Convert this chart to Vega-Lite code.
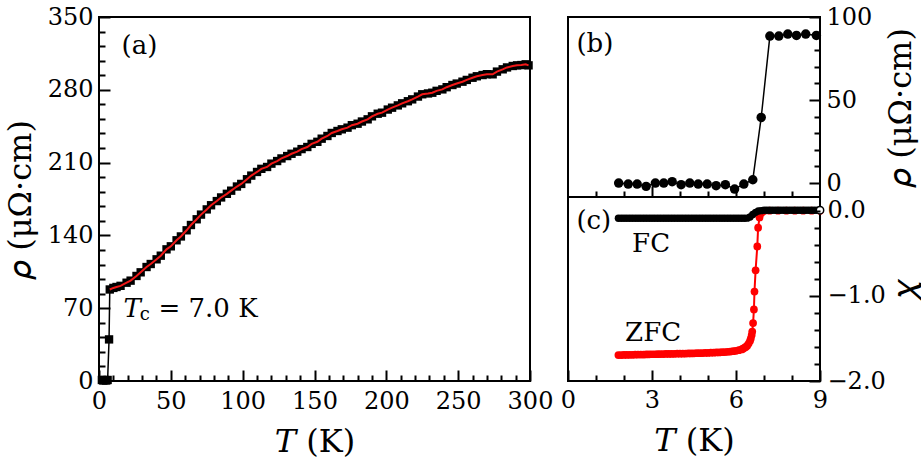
{
  "$schema": "https://vega.github.io/schema/vega-lite/v6.json",
  "background": "white",
  "padding": {"left": 3, "top": 4, "right": 0, "bottom": 0},
  "config": {
    "font": "DejaVu Serif",
    "view": {"stroke": "black", "strokeWidth": 2},
    "axis": {
      "labelFont": "DejaVu Serif", "labelFontSize": 24, "labelColor": "black",
      "titleFont": "DejaVu Serif", "titleFontSize": 32, "titleFontWeight": "normal", "titleColor": "black",
      "labelOverlap": false, "labelFlush": false
    },
    "text": {"font": "DejaVu Serif", "color": "black"}
  },
  "datasets": {
    "rhoA": [
      {"T": 2, "rho": 1}, {"T": 3, "rho": 0.5}, {"T": 4, "rho": 1}, {"T": 5, "rho": 0.5}, {"T": 6, "rho": 1},
      {"T": 7.0, "rho": 40}, {"T": 7.5, "rho": 88},
      {"T": 10, "rho": 89.5}, {"T": 12.2, "rho": 90.4}, {"T": 15, "rho": 91.5}, {"T": 19.2, "rho": 94.5},
      {"T": 22, "rho": 96.5}, {"T": 26.1, "rho": 101}, {"T": 29, "rho": 104.5}, {"T": 33.1, "rho": 109.6},
      {"T": 36, "rho": 112.5}, {"T": 40.1, "rho": 117}, {"T": 43, "rho": 120.5}, {"T": 47, "rho": 126.6},
      {"T": 50, "rho": 129.5}, {"T": 54, "rho": 135.3}, {"T": 57, "rho": 139}, {"T": 61, "rho": 144.9},
      {"T": 64, "rho": 150}, {"T": 68, "rho": 155.5}, {"T": 71, "rho": 160}, {"T": 75, "rho": 165},
      {"T": 78, "rho": 169}, {"T": 82, "rho": 173}, {"T": 85, "rho": 176.5}, {"T": 89, "rho": 180},
      {"T": 92, "rho": 183}, {"T": 96, "rho": 187}, {"T": 99, "rho": 189.5}, {"T": 103, "rho": 194},
      {"T": 106, "rho": 197.5}, {"T": 110, "rho": 201}, {"T": 113, "rho": 204}, {"T": 117, "rho": 205.8},
      {"T": 120, "rho": 209}, {"T": 124, "rho": 211.5}, {"T": 127, "rho": 214}, {"T": 131, "rho": 216.3},
      {"T": 134, "rho": 218.5}, {"T": 138, "rho": 220.5}, {"T": 141, "rho": 223}, {"T": 145, "rho": 225},
      {"T": 148, "rho": 228}, {"T": 152, "rho": 230}, {"T": 155, "rho": 233}, {"T": 159, "rho": 235.6},
      {"T": 162, "rho": 238.5}, {"T": 166, "rho": 240.4}, {"T": 169, "rho": 242}, {"T": 173, "rho": 243.6},
      {"T": 176, "rho": 246}, {"T": 180, "rho": 247.4}, {"T": 183, "rho": 249.5}, {"T": 187, "rho": 251.6},
      {"T": 190, "rho": 254.5}, {"T": 194, "rho": 257}, {"T": 197, "rho": 258}, {"T": 201, "rho": 261},
      {"T": 204, "rho": 262.8}, {"T": 208, "rho": 265}, {"T": 211, "rho": 267}, {"T": 215, "rho": 269},
      {"T": 218, "rho": 270.8}, {"T": 222, "rho": 273.5}, {"T": 225, "rho": 275.7}, {"T": 229, "rho": 276.5},
      {"T": 232, "rho": 277.2}, {"T": 235, "rho": 279}, {"T": 239, "rho": 280.4}, {"T": 242, "rho": 282.5},
      {"T": 246, "rho": 284.6}, {"T": 249, "rho": 286}, {"T": 253, "rho": 287.8}, {"T": 256, "rho": 289.5},
      {"T": 260, "rho": 291.6}, {"T": 263, "rho": 293}, {"T": 267, "rho": 294.2}, {"T": 270, "rho": 295},
      {"T": 274, "rho": 294.9}, {"T": 277, "rho": 297.5}, {"T": 281, "rho": 299.7}, {"T": 284, "rho": 301.5},
      {"T": 288, "rho": 302.9}, {"T": 291, "rho": 303.5}, {"T": 294, "rho": 303.8}, {"T": 297, "rho": 304.5},
      {"T": 299, "rho": 303.5}
    ],
    "annA": [{"T": 15.7, "rho": 322, "label": "(a)"}, {"T": 41.4, "rho": 69, "label": "= 7.0 K"}],
    "annAT": [{"T": 17, "rho": 69, "label": "T"}],
    "annAc": [{"T": 28.3, "rho": 63, "label": "c"}],
    "rhoB": [
      {"T": 1.81, "rho": 0}, {"T": 2.15, "rho": -0.6}, {"T": 2.47, "rho": -0.6}, {"T": 2.79, "rho": -2},
      {"T": 3.12, "rho": 0}, {"T": 3.42, "rho": 0}, {"T": 3.72, "rho": 0.8}, {"T": 4.04, "rho": -1},
      {"T": 4.35, "rho": 0}, {"T": 4.65, "rho": -0.6}, {"T": 4.97, "rho": -0.6}, {"T": 5.29, "rho": -1.6},
      {"T": 5.62, "rho": -1}, {"T": 5.95, "rho": -3.6}, {"T": 6.28, "rho": -0.6}, {"T": 6.60, "rho": 2},
      {"T": 6.90, "rho": 39.5}, {"T": 7.21, "rho": 88.5}, {"T": 7.53, "rho": 88.5}, {"T": 7.85, "rho": 89.7},
      {"T": 8.16, "rho": 88.9}, {"T": 8.49, "rho": 89.7}, {"T": 8.87, "rho": 88.9}
    ],
    "annB": [{"T": 0.3, "rho": 84, "label": "(b)"}],
    "fc": [
      {"T": 1.8, "chi": -0.09}, {"T": 1.9, "chi": -0.09}, {"T": 2.0, "chi": -0.09}, {"T": 2.1, "chi": -0.09},
      {"T": 2.2, "chi": -0.09}, {"T": 2.3, "chi": -0.09}, {"T": 2.4, "chi": -0.09}, {"T": 2.5, "chi": -0.09},
      {"T": 2.6, "chi": -0.09}, {"T": 2.7, "chi": -0.09}, {"T": 2.8, "chi": -0.09}, {"T": 2.9, "chi": -0.09},
      {"T": 3.0, "chi": -0.09}, {"T": 3.1, "chi": -0.09}, {"T": 3.2, "chi": -0.09}, {"T": 3.3, "chi": -0.09},
      {"T": 3.4, "chi": -0.09}, {"T": 3.5, "chi": -0.09}, {"T": 3.6, "chi": -0.09}, {"T": 3.7, "chi": -0.09},
      {"T": 3.8, "chi": -0.09}, {"T": 3.9, "chi": -0.09}, {"T": 4.0, "chi": -0.09}, {"T": 4.1, "chi": -0.09},
      {"T": 4.2, "chi": -0.09}, {"T": 4.3, "chi": -0.09}, {"T": 4.4, "chi": -0.09}, {"T": 4.5, "chi": -0.09},
      {"T": 4.6, "chi": -0.09}, {"T": 4.7, "chi": -0.09}, {"T": 4.8, "chi": -0.09}, {"T": 4.9, "chi": -0.09},
      {"T": 5.0, "chi": -0.09}, {"T": 5.1, "chi": -0.09}, {"T": 5.2, "chi": -0.09}, {"T": 5.3, "chi": -0.09},
      {"T": 5.4, "chi": -0.09}, {"T": 5.5, "chi": -0.09}, {"T": 5.6, "chi": -0.09}, {"T": 5.7, "chi": -0.09},
      {"T": 5.8, "chi": -0.09}, {"T": 5.9, "chi": -0.09}, {"T": 6.0, "chi": -0.09}, {"T": 6.1, "chi": -0.09},
      {"T": 6.2, "chi": -0.09}, {"T": 6.3, "chi": -0.09}, {"T": 6.4, "chi": -0.088},
      {"T": 6.5, "chi": -0.075}, {"T": 6.6, "chi": -0.045}, {"T": 6.7, "chi": -0.02}, {"T": 6.8, "chi": -0.005},
      {"T": 6.9, "chi": 0.0}, {"T": 7.0, "chi": 0.005}, {"T": 7.1, "chi": 0.005}, {"T": 7.2, "chi": 0.005},
      {"T": 7.3, "chi": 0.005}, {"T": 7.4, "chi": 0.005}, {"T": 7.5, "chi": 0.005}, {"T": 7.6, "chi": 0.005},
      {"T": 7.7, "chi": 0.005}, {"T": 7.8, "chi": 0.005}, {"T": 7.9, "chi": 0.005}, {"T": 8.0, "chi": 0.005},
      {"T": 8.1, "chi": 0.005}, {"T": 8.2, "chi": 0.005}, {"T": 8.3, "chi": 0.005}, {"T": 8.4, "chi": 0.005},
      {"T": 8.5, "chi": 0.005}, {"T": 8.6, "chi": 0.005}, {"T": 8.7, "chi": 0.005}, {"T": 8.8, "chi": 0.005},
      {"T": 8.9, "chi": 0.005}, {"T": 9.0, "chi": 0.005}
    ],
    "fcEnd": [{"T": 9.0, "chi": 0.005}],
    "zfc": [
      {"T": 1.8, "chi": -1.695}, {"T": 1.9, "chi": -1.695}, {"T": 2.0, "chi": -1.694}, {"T": 2.1, "chi": -1.694},
      {"T": 2.2, "chi": -1.693}, {"T": 2.3, "chi": -1.692}, {"T": 2.4, "chi": -1.691}, {"T": 2.5, "chi": -1.69},
      {"T": 2.6, "chi": -1.69}, {"T": 2.7, "chi": -1.689}, {"T": 2.8, "chi": -1.688}, {"T": 2.9, "chi": -1.687},
      {"T": 3.0, "chi": -1.686}, {"T": 3.1, "chi": -1.686}, {"T": 3.2, "chi": -1.685}, {"T": 3.3, "chi": -1.684},
      {"T": 3.4, "chi": -1.684}, {"T": 3.5, "chi": -1.683}, {"T": 3.6, "chi": -1.682}, {"T": 3.7, "chi": -1.682},
      {"T": 3.8, "chi": -1.681}, {"T": 3.9, "chi": -1.68}, {"T": 4.0, "chi": -1.68}, {"T": 4.1, "chi": -1.679},
      {"T": 4.2, "chi": -1.678}, {"T": 4.3, "chi": -1.677}, {"T": 4.4, "chi": -1.676}, {"T": 4.5, "chi": -1.675},
      {"T": 4.6, "chi": -1.674}, {"T": 4.7, "chi": -1.673}, {"T": 4.8, "chi": -1.672}, {"T": 4.9, "chi": -1.671},
      {"T": 5.0, "chi": -1.67}, {"T": 5.1, "chi": -1.668}, {"T": 5.2, "chi": -1.667}, {"T": 5.3, "chi": -1.665},
      {"T": 5.4, "chi": -1.664}, {"T": 5.5, "chi": -1.662}, {"T": 5.6, "chi": -1.66}, {"T": 5.7, "chi": -1.657},
      {"T": 5.8, "chi": -1.654}, {"T": 5.9, "chi": -1.65}, {"T": 6.0, "chi": -1.645}, {"T": 6.1, "chi": -1.638},
      {"T": 6.2, "chi": -1.63}, {"T": 6.25, "chi": -1.62}, {"T": 6.3, "chi": -1.61}, {"T": 6.35, "chi": -1.6},
      {"T": 6.4, "chi": -1.585}, {"T": 6.45, "chi": -1.56}, {"T": 6.5, "chi": -1.53}, {"T": 6.53, "chi": -1.5},
      {"T": 6.56, "chi": -1.46}, {"T": 6.58, "chi": -1.42}, {"T": 6.61, "chi": -1.32}, {"T": 6.64, "chi": -1.16},
      {"T": 6.66, "chi": -0.95}, {"T": 6.70, "chi": -0.70}, {"T": 6.76, "chi": -0.42}, {"T": 6.79, "chi": -0.20},
      {"T": 6.84, "chi": -0.08}, {"T": 6.9, "chi": -0.03}, {"T": 7.0, "chi": -0.005}, {"T": 7.2, "chi": 0},
      {"T": 7.5, "chi": 0}, {"T": 7.8, "chi": 0}, {"T": 8.1, "chi": 0}, {"T": 8.4, "chi": 0},
      {"T": 8.7, "chi": 0}, {"T": 9.0, "chi": 0}
    ],
    "annC": [{"T": 0.3, "chi": -0.12, "label": "(c)"}, {"T": 2.29, "chi": -0.39, "label": "FC"}, {"T": 2.04, "chi": -1.44, "label": "ZFC"}]
  },
  "spacing": 38,
  "bounds": "flush",
  "hconcat": [
    {
      "width": 431,
      "height": 364,
      "layer": [
        {
          "data": {"name": "rhoA"},
          "mark": {"type": "line", "color": "black", "strokeWidth": 1.5},
          "encoding": {
            "x": {"field": "T", "type": "quantitative",
              "scale": {"domain": [0, 300], "nice": false, "zero": false},
              "axis": {"title": "𝑇 (K)", "values": [0,10,20,30,40,50,60,70,80,90,100,110,120,130,140,150,160,170,180,190,200,210,220,230,240,250,260,270,280,290,300],
                "labelExpr": "datum.value % 50 === 0 ? datum.label : ''", "tickCount": 200, "format": "d",
                "domain": false, "grid": false, "ticks": true, "tickColor": "black", "tickWidth": 2,
                "offset": -11, "tickSize": 11, "zindex": 1,
                "tickDash": {"condition": {"test": "datum.value % 50 === 0", "value": [20, 1]}, "value": [0, 5, 6, 20]},
                "labelPadding": 8, "titlePadding": 13}},
            "y": {"field": "rho", "type": "quantitative",
              "scale": {"domain": [0, 350], "nice": false, "zero": false},
              "axis": {"title": "𝜌 (μΩ·cm)", "values": [0,14,28,42,56,70,84,98,112,126,140,154,168,182,196,210,224,238,252,266,280,294,308,322,336,350],
                "labelExpr": "datum.value % 70 === 0 ? datum.label : ''", "tickCount": 200, "format": "d",
                "domain": false, "grid": false, "ticks": true, "tickColor": "black", "tickWidth": 2,
                "offset": -11, "tickSize": 11, "zindex": 1,
                "tickDash": {"condition": {"test": "datum.value % 70 === 0", "value": [20, 1]}, "value": [0, 5, 6, 20]},
                "labelPadding": 6, "titlePadding": 10}}
          }
        },
        {
          "data": {"name": "rhoA"},
          "mark": {"type": "square", "size": 70, "color": "black", "opacity": 1},
          "encoding": {"x": {"field": "T", "type": "quantitative"}, "y": {"field": "rho", "type": "quantitative"}}
        },
        {
          "data": {"name": "rhoA"},
          "transform": [{"filter": "datum.T >= 7.5"}],
          "mark": {"type": "line", "color": "#f01818", "strokeWidth": 2},
          "encoding": {"x": {"field": "T", "type": "quantitative"}, "y": {"field": "rho", "type": "quantitative"}}
        },
        {
          "data": {"name": "annA"},
          "mark": {"type": "text", "align": "left", "baseline": "middle", "fontSize": 26},
          "encoding": {"x": {"field": "T", "type": "quantitative"}, "y": {"field": "rho", "type": "quantitative"}, "text": {"field": "label"}}
        },
        {
          "data": {"name": "annAT"},
          "mark": {"type": "text", "align": "left", "baseline": "middle", "fontSize": 26, "fontStyle": "italic"},
          "encoding": {"x": {"field": "T", "type": "quantitative"}, "y": {"field": "rho", "type": "quantitative"}, "text": {"field": "label"}}
        },
        {
          "data": {"name": "annAc"},
          "mark": {"type": "text", "align": "left", "baseline": "middle", "fontSize": 18},
          "encoding": {"x": {"field": "T", "type": "quantitative"}, "y": {"field": "rho", "type": "quantitative"}, "text": {"field": "label"}}
        }
      ]
    },
    {
      "spacing": 0,
      "bounds": "flush",
      "vconcat": [
        {
          "width": 252,
          "height": 180,
          "layer": [
            {
              "data": {"name": "rhoB"},
              "mark": {"type": "line", "color": "black", "strokeWidth": 1.5},
              "encoding": {
                "x": {"field": "T", "type": "quantitative",
                  "scale": {"domain": [0, 9], "nice": false, "zero": false},
                  "axis": {"title": null, "orient": "bottom", "values": [1,2,3,4,5,6,7,8], "labels": false, "tickCount": 200,
                    "domain": false, "grid": false, "ticks": true, "tickColor": "black", "tickWidth": 2,
                    "offset": -11, "tickSize": 11, "zindex": 1,
                    "tickDash": {"condition": {"test": "datum.value % 3 === 0", "value": [20, 1]}, "value": [0, 5, 6, 20]}}},
                "y": {"field": "rho", "type": "quantitative",
                  "scale": {"domain": [-8.4, 100], "nice": false, "zero": false},
                  "axis": {"orient": "right", "title": "𝜌 (μΩ·cm)", "titleAngle": 270, "titleBaseline": "top",
                    "values": [0,10,20,30,40,50,60,70,80,90,100], "tickCount": 200, "format": "d",
                    "labelExpr": "datum.value % 50 === 0 ? datum.label : ''",
                    "domain": false, "grid": false, "ticks": true, "tickColor": "black", "tickWidth": 2,
                    "offset": -11, "tickSize": 11, "zindex": 1,
                    "tickDash": {"condition": {"test": "datum.value % 50 === 0", "value": [20, 1]}, "value": [0, 5, 6, 20]},
                    "labelPadding": 6, "titlePadding": 14}}
              }
            },
            {
              "data": {"name": "rhoB"},
              "mark": {"type": "circle", "size": 90, "color": "black", "opacity": 1},
              "encoding": {"x": {"field": "T", "type": "quantitative"}, "y": {"field": "rho", "type": "quantitative"}}
            },
            {
              "data": {"name": "annB"},
              "mark": {"type": "text", "align": "left", "baseline": "middle", "fontSize": 26},
              "encoding": {"x": {"field": "T", "type": "quantitative"}, "y": {"field": "rho", "type": "quantitative"}, "text": {"field": "label"}}
            }
          ]
        },
        {
          "width": 252,
          "height": 184,
          "layer": [
            {
              "data": {"name": "zfc"},
              "mark": {"type": "line", "color": "#ff0000", "strokeWidth": 2},
              "encoding": {
                "x": {"field": "T", "type": "quantitative",
                  "scale": {"domain": [0, 9], "nice": false, "zero": false},
                  "axis": {"title": "𝑇 (K)", "orient": "bottom", "values": [0,1,2,3,4,5,6,7,8,9], "tickCount": 200, "format": "d",
                    "labelExpr": "datum.value % 3 === 0 ? datum.label : ''",
                    "domain": false, "grid": false, "ticks": true, "tickColor": "black", "tickWidth": 2,
                    "offset": -11, "tickSize": 11, "zindex": 1,
                    "tickDash": {"condition": {"test": "datum.value % 3 === 0", "value": [20, 1]}, "value": [0, 5, 6, 20]},
                    "labelPadding": 7, "titlePadding": 13}},
                "y": {"field": "chi", "type": "quantitative",
                  "scale": {"domain": [-2.0, 0.16], "nice": false, "zero": false},
                  "axis": {"orient": "right", "title": "𝜒", "titleAngle": 270, "titleBaseline": "top", "format": ".1f",
                    "values": [-2.0,-1.8,-1.6,-1.4,-1.2,-1.0,-0.8,-0.6,-0.4,-0.2,0.0], "tickCount": 200,
                    "labelExpr": "abs(datum.value - round(datum.value)) < 0.01 ? datum.label : ''",
                    "domain": false, "grid": false, "ticks": true, "tickColor": "black", "tickWidth": 2,
                    "offset": -11, "tickSize": 11, "zindex": 1,
                    "tickDash": {"condition": {"test": "abs(datum.value - round(datum.value)) < 0.01", "value": [20, 1]}, "value": [0, 5, 6, 20]},
                    "labelPadding": 7, "titlePadding": 4}}
              }
            },
            {
              "data": {"name": "zfc"},
              "mark": {"type": "circle", "size": 60, "color": "#ff0000", "opacity": 1},
              "encoding": {"x": {"field": "T", "type": "quantitative"}, "y": {"field": "chi", "type": "quantitative"}}
            },
            {
              "data": {"name": "fc"},
              "mark": {"type": "line", "color": "black", "strokeWidth": 1.5},
              "encoding": {"x": {"field": "T", "type": "quantitative"}, "y": {"field": "chi", "type": "quantitative"}}
            },
            {
              "data": {"name": "fc"},
              "mark": {"type": "circle", "size": 55, "color": "black", "opacity": 1},
              "encoding": {"x": {"field": "T", "type": "quantitative"}, "y": {"field": "chi", "type": "quantitative"}}
            },
            {
              "data": {"name": "fcEnd"},
              "mark": {"type": "point", "shape": "circle", "filled": true, "fill": "white", "stroke": "black", "strokeWidth": 1.5, "size": 55, "opacity": 1},
              "encoding": {"x": {"field": "T", "type": "quantitative"}, "y": {"field": "chi", "type": "quantitative"}}
            },
            {
              "data": {"name": "annC"},
              "mark": {"type": "text", "align": "left", "baseline": "middle", "fontSize": 26},
              "encoding": {"x": {"field": "T", "type": "quantitative"}, "y": {"field": "chi", "type": "quantitative"}, "text": {"field": "label"}}
            }
          ]
        }
      ]
    }
  ]
}
